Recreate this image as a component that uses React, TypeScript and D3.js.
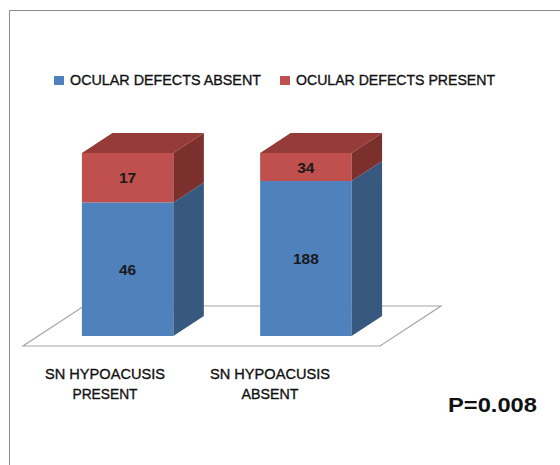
import React from "react";
import * as d3 from "d3";

const categories = ["SN HYPOACUSIS PRESENT", "SN HYPOACUSIS ABSENT"];
const categoryLines = [
  ["SN HYPOACUSIS", "PRESENT"],
  ["SN HYPOACUSIS", "ABSENT"],
];
const categoryLineWidths = [
  [120, 65],
  [120, 57],
];
const seriesNames = ["OCULAR DEFECTS ABSENT", "OCULAR DEFECTS PRESENT"];
const absentValues = [46, 188];
const presentValues = [17, 34];
const pValueLabel = "P=0.008";

const W = 560;
const H = 465;
const FONT = "'Liberation Sans', Arial, sans-serif";

const frontColors = ["#4F81BD", "#C0504D"];
const sideColors = ["#37597F", "#7C302E"];
const topColors = ["#3F6595", "#953B38"];

export default function App() {
  const rows = categories.map((c, i) => ({
    cat: c,
    absent: absentValues[i],
    present: presentValues[i],
  }));
  const keys = ["absent", "present"];
  const stacked = d3
    .stack<any>()
    .keys(keys)
    .offset(d3.stackOffsetExpand)(rows);

  const floorY = 346;
  const depthX = 61;
  const depthY = -40;
  const x = d3
    .scaleBand<string>()
    .domain(categories)
    .range([23, 380])
    .paddingInner(0.487)
    .paddingOuter(0.245);
  const barFrontOffset = 0.25;
  const barDepth = 0.5;
  const bdx = depthX * barDepth;
  const bdy = depthY * barDepth;
  const baseY = floorY + depthY * barFrontOffset;
  const y = d3.scaleLinear().domain([0, 1]).range([baseY, baseY - 183]);

  const labelX = d3.scalePoint<string>().domain(categories).range([105, 270]);

  const floorPts: [number, number][] = [
    [x.range()[0], floorY],
    [x.range()[1], floorY],
    [x.range()[1] + depthX, floorY + depthY],
    [x.range()[0] + depthX, floorY + depthY],
  ];
  const line = d3.line();
  const bw = x.bandwidth();

  return (
    <svg
      width={W}
      height={H}
      style={{ position: "absolute", left: 0, top: 0, background: "#fff" }}
      fontFamily={FONT}
    >
      <rect x={0} y={0} width={W} height={H} fill="#fff" />
      <path d={`M9.5,${H} V10.5 H${W}`} fill="none" stroke="#8C8C8C" strokeWidth={1} />

      {seriesNames.map((s, i) => {
        const lx = [54, 280][i];
        return (
          <g key={s}>
            <rect x={lx} y={76} width={10} height={9} fill={frontColors[i]} />
            <text
              x={lx + 16}
              y={85}
              fontSize={15}
              fill="#111"
              stroke="#111"
              strokeWidth={0.35}
              textLength={[191, 199][i]}
              lengthAdjust="spacingAndGlyphs"
            >
              {s}
            </text>
          </g>
        );
      })}

      <path d={line(floorPts) + "Z"} fill="#fff" stroke="#A6A6A6" strokeWidth={1.2} />

      {categories.map((c, ci) => {
        const x0 = (x(c) as number) + depthX * barFrontOffset;
        const x1 = x0 + bw;
        return (
          <g key={c}>
            {stacked.map((s, si) => {
              const d = s[ci];
              const yb = y(d[0]);
              const yt = y(d[1]);
              const side: [number, number][] = [
                [x1, yb],
                [x1 + bdx, yb + bdy],
                [x1 + bdx, yt + bdy],
                [x1, yt],
              ];
              return (
                <g key={si}>
                  <rect x={x0} y={yt} width={bw} height={yb - yt} fill={frontColors[si]} />
                  <path d={line(side) + "Z"} fill={sideColors[si]} />
                  {si === stacked.length - 1 && (
                    <path
                      d={
                        line([
                          [x0, yt],
                          [x1, yt],
                          [x1 + bdx, yt + bdy],
                          [x0 + bdx, yt + bdy],
                        ]) + "Z"
                      }
                      fill={topColors[si]}
                    />
                  )}
                </g>
              );
            })}
            {stacked.map((s, si) => {
              const d = s[ci];
              const raw = si === 0 ? absentValues[ci] : presentValues[ci];
              return (
                <text
                  key={"l" + si}
                  x={x0 + bw / 2}
                  y={(y(d[0]) + y(d[1])) / 2}
                  dy="0.36em"
                  textAnchor="middle"
                  fontSize={15.5}
                  fontWeight="bold"
                  fill="#1a1a1a"
                >
                  {raw}
                </text>
              );
            })}
          </g>
        );
      })}

      {categories.map((c, ci) => (
        <g key={"cl" + c}>
          {categoryLines[ci].map((t, li) => (
            <text
              key={li}
              x={labelX(c)}
              y={379 + li * 20}
              textAnchor="middle"
              fontSize={15}
              fill="#111"
              stroke="#111"
              strokeWidth={0.35}
              textLength={categoryLineWidths[ci][li]}
              lengthAdjust="spacingAndGlyphs"
            >
              {t}
            </text>
          ))}
        </g>
      ))}

      <text
        x={448}
        y={412}
        fontSize={21}
        fontWeight="bold"
        fill="#111"
        textLength={89}
        lengthAdjust="spacingAndGlyphs"
      >
        {pValueLabel}
      </text>
    </svg>
  );
}
